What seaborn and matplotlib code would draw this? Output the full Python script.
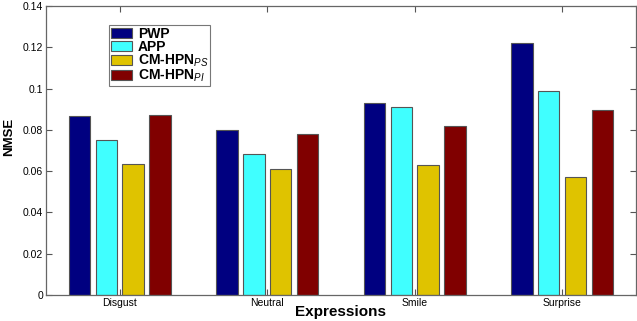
import matplotlib
matplotlib.use("Agg")
import matplotlib.pyplot as plt
import seaborn as sns
import pandas as pd
from matplotlib.patches import Patch

expressions = ["Disgust", "Neutral", "Smile", "Surprise"]
methods = ["PWP", "APP", "CM-HPN$_{PS}$", "CM-HPN$_{PI}$"]
pwp = [0.0867, 0.0799, 0.0929, 0.1220]
app = [0.0751, 0.0682, 0.0909, 0.0988]
cm_ps = [0.0633, 0.0609, 0.0631, 0.0572]
cm_pi = [0.0872, 0.0780, 0.0817, 0.0896]
colors = ["#000080", "#40FFFF", "#DFC300", "#800000"]
yticks = [0, 0.02, 0.04, 0.06, 0.08, 0.1, 0.12, 0.14]
ytick_labels = ["0", "0.02", "0.04", "0.06", "0.08", "0.1", "0.12", "0.14"]

series = [pwp, app, cm_ps, cm_pi]
rows = []
for m, vals in zip(methods, series):
    for e, v in zip(expressions, vals):
        rows.append({"Expressions": e, "Method": m, "NMSE": v})
df = pd.DataFrame(rows)

sns.set_style("white")
plt.rcParams["font.family"] = ["Liberation Sans", "DejaVu Sans"]
plt.rcParams["mathtext.fontset"] = "custom"
plt.rcParams["mathtext.it"] = "Liberation Sans:italic"
plt.rcParams["mathtext.rm"] = "Liberation Sans"
plt.rcParams["text.color"] = "black"
plt.rcParams["axes.labelcolor"] = "black"
plt.rcParams["xtick.color"] = "black"
plt.rcParams["ytick.color"] = "black"

fig = plt.figure(figsize=(6.37, 3.21), dpi=100)
ax = fig.add_axes([0.0722, 0.081, 0.926, 0.900])

sns.barplot(data=df, x="Expressions", y="NMSE", hue="Method",
            hue_order=methods, order=expressions, palette=colors,
            saturation=1, width=0.727, gap=0.2, edgecolor="#555555",
            linewidth=0.8, ax=ax, legend=False)

ax.set_xlim(-0.5, 3.5)
ax.set_ylim(0, 0.14)
ax.set_yticks(yticks)
ax.set_yticklabels(ytick_labels)
ax.tick_params(direction="in", top=True, right=True, bottom=True, left=True,
               length=4, width=0.8, color="#555555", labelsize=7.5, pad=2)
for sp in ax.spines.values():
    sp.set_visible(True)
    sp.set_color("#666666")
    sp.set_linewidth(0.9)

ax.set_xlabel("Expressions", fontsize=11, fontweight="bold")
ax.xaxis.set_label_coords(0.5, -0.036)
ax.set_ylabel("NMSE", fontsize=9.5, fontweight="bold")
ax.yaxis.set_label_coords(-0.052, 0.548)

handles = [Patch(facecolor=c, edgecolor="#555555", linewidth=0.8) for c in colors]
leg = ax.legend(handles, methods, loc="upper left", bbox_to_anchor=(0.106, 0.934),
                borderaxespad=0, frameon=True, fancybox=False, edgecolor="#555555",
                prop={"weight": "bold", "size": 10}, handlelength=1.55,
                handleheight=0.72, handletextpad=0.4, labelspacing=-0.1,
                borderpad=0.15)
leg.get_frame().set_linewidth(0.8)

fig.savefig("out.png", dpi=100)
